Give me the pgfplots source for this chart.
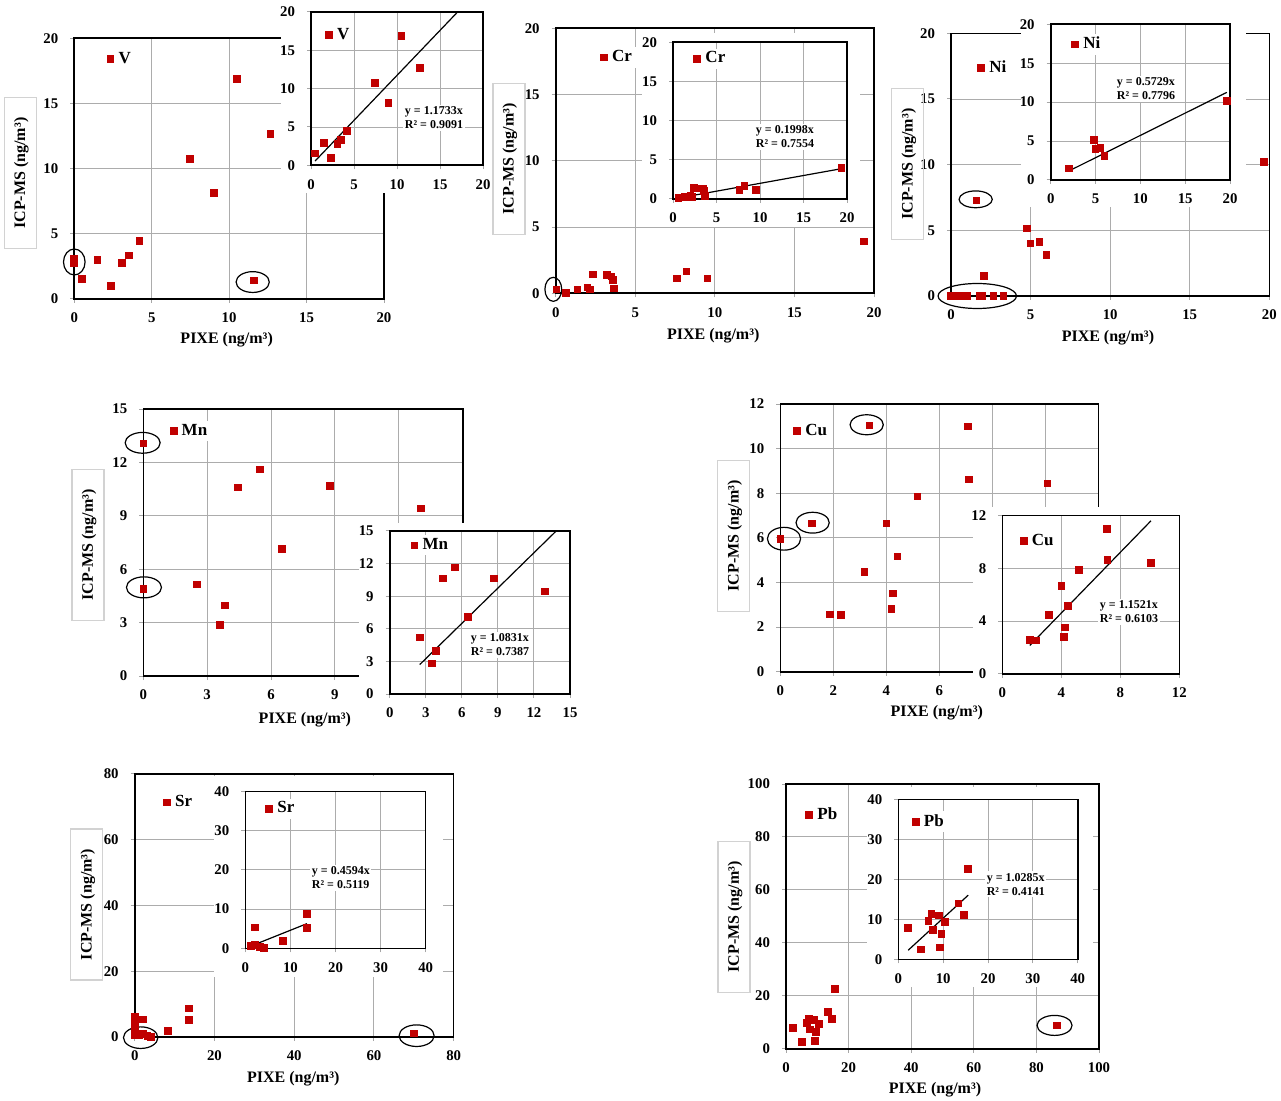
\documentclass[border=0pt]{standalone}
\usepackage{fontspec}
\setmainfont{Liberation Serif}
\usepackage{pgfplots}
\pgfplotsset{compat=1.18}
\definecolor{mk}{HTML}{C00000}
\pgfplotsset{
 base/.style={
  scale only axis, clip=false, anchor=south west,
  axis line style={line width=0.8pt},
  grid=major, major grid style={draw=gray!65, line width=0.45pt},
  tick align=outside, tick pos=left, major tick length=2pt,
  tick style={gray!70, line width=0.5pt},
  tick label style={font=\bfseries\fontsize{7.4}{8}\selectfont},
  yticklabel style={xshift=-2.5pt},
  xticklabel style={yshift=-1.5pt},
  /pgf/number format/assume math mode=true,
  legend image code/.code={\draw[##1] plot coordinates {(0pt,0pt)};},
  legend style={draw=none, fill=white, anchor=west, inner xsep=0pt, inner ysep=0.5pt,
    nodes={inner xsep=2.4pt, inner ysep=1pt}, font=\bfseries\fontsize{8.5}{9}\selectfont, xshift=-1.9pt},
 },
 mainax/.style={base,
  xlabel={PIXE (ng/m³)}, ylabel={ICP-MS (ng/m³)},
  xlabel style={anchor=center, font=\bfseries\fontsize{8}{9}\selectfont},
  ylabel style={anchor=center, font=\bfseries\fontsize{8}{9}\selectfont, draw=gray!35,
    line width=0.6pt, inner xsep=10pt, inner ysep=3.4pt, text height=0.7em, text depth=0.22em},
 },
 inax/.style={base},
 pts/.style={only marks, mark=square*, mark size=1.7pt, draw=mk, fill=mk},
 fit/.style={black, line width=0.6pt, no marks, forget plot},
}
\tikzset{circ/.style={black, line width=0.6pt},
 eq/.style={fill=white, inner sep=0.8pt, align=left, font=\bfseries\fontsize{6}{7}\selectfont}}
\begin{document}
\begin{tikzpicture}
\useasboundingbox (0,0) rectangle (640.5pt,550pt);
% ===== V =====
\begin{axis}[mainax, at={(37.15pt,400.5pt)}, width=154.85pt, height=130.35pt,
 xmin=0,xmax=20,ymin=0,ymax=20, xtick distance=5, ytick distance=5,
 xlabel style={at={(axis description cs:0.492,-0.157)}},
 ylabel style={at={(axis description cs:-0.174,0.483)}},
 legend style={at={(axis cs:2.33,18.41)}}]
\addplot[pts] coordinates {(0,3.1)(0,2.8)(0.47,1.55)(1.49,2.97)(2.36,0.98)(3.08,2.76)(3.52,3.34)(4.2,4.45)(7.44,10.75)(9.0,8.16)(10.5,16.86)(12.66,12.67)(11.62,1.43)};
\addlegendentry{V}
\draw[circ] (axis cs:0,2.84) ellipse [x radius=5.4pt, y radius=6.5pt];
\draw[circ] (axis cs:11.52,1.3) ellipse [x radius=8.3pt, y radius=5.2pt];
\end{axis}
\fill[white] (140.5pt,453.5pt) rectangle (246pt,550pt);
\begin{axis}[inax, at={(155.5pt,467.35pt)}, width=86pt, height=76.65pt,
 xmin=0,xmax=20,ymin=0,ymax=20, xtick distance=5, ytick distance=5,
 legend style={at={(axis cs:2.09,16.96)}}]
\addplot[pts] coordinates {(0.47,1.55)(1.49,2.97)(2.36,0.98)(3.08,2.76)(3.52,3.34)(4.2,4.45)(7.44,10.75)(9.0,8.16)(10.5,16.86)(12.66,12.67)};
\addlegendentry{V}
\addplot[fit] coordinates {(0.47,0.551)(17.04,19.993)};
\node[eq] at (axis cs:14.3,6.17) {y = 1.1733x\\R² = 0.9091};
\end{axis}
% ===== Cr =====
\begin{axis}[mainax, at={(277.85pt,403.35pt)}, width=159.15pt, height=132.5pt,
 xmin=0,xmax=20,ymin=0,ymax=20, xtick distance=5, ytick distance=5,
 xlabel style={at={(axis description cs:0.495,-0.161)}},
 ylabel style={at={(axis description cs:-0.147,0.507)}},
 legend style={at={(axis cs:3.03,17.8)}}]
\addplot[pts] coordinates {(0.04,0.3)(0.63,0.05)(1.36,0.3)(1.99,0.45)(2.16,0.3)(2.36,1.43)(3.24,1.36)(3.5,1.28)(3.58,1.0)(3.68,0.37)(7.64,1.13)(8.21,1.66)(9.53,1.13)(19.35,3.92)};
\addlegendentry{Cr}
\draw[circ] (axis cs:-0.15,0.3) ellipse [x radius=4.2pt, y radius=6pt];
\end{axis}
\fill[white] (320.85pt,436.65pt) rectangle (430pt,533.35pt);
\begin{axis}[inax, at={(336.5pt,450.5pt)}, width=87pt, height=78.35pt,
 xmin=0,xmax=20,ymin=0,ymax=20, xtick distance=5, ytick distance=5,
 legend style={at={(axis cs:2.79,17.9)}}]
\addplot[pts] coordinates {(0.63,0.12)(1.36,0.3)(1.99,0.45)(2.16,0.3)(2.36,1.43)(3.24,1.36)(3.5,1.28)(3.58,1.0)(3.68,0.37)(7.64,1.2)(8.21,1.7)(9.53,1.2)(19.35,3.98)};
\addlegendentry{Cr}
\addplot[fit] coordinates {(0.63,0.126)(19.35,3.866)};
\node[eq] at (axis cs:12.87,7.91) {y = 0.1998x\\R² = 0.7554};
\end{axis}
% ===== Ni =====
\begin{axis}[mainax, at={(475.5pt,402pt)}, width=159.15pt, height=131.35pt,
 xmin=0,xmax=20,ymin=0,ymax=20, xtick distance=5, ytick distance=5,
 xlabel style={at={(axis description cs:0.493,-0.157)}},
 ylabel style={at={(axis description cs:-0.136,0.502)}},
 legend style={at={(axis cs:1.9,17.38)}}]
\addplot[pts] coordinates {(0,0)(0.52,0)(1.02,0)(1.82,0)(1.97,0)(2.66,0)(3.29,0)(1.59,7.28)(2.05,1.5)(4.78,5.15)(4.99,4.01)(5.55,4.09)(5.99,3.1)(19.65,10.18)};
\addlegendentry{Ni}
\draw[circ] (axis cs:1.55,7.36) ellipse [x radius=8.3pt, y radius=4.2pt];
\draw[circ] (axis cs:1.65,0) ellipse [x radius=19.6pt, y radius=6.25pt];
\end{axis}
\fill[white] (510.5pt,446.65pt) rectangle (623pt,550pt);
\begin{axis}[inax, at={(525.35pt,460pt)}, width=89.65pt, height=77.85pt,
 xmin=0,xmax=20,ymin=0,ymax=20, xtick distance=5, ytick distance=5,
 legend style={at={(axis cs:2.74,17.43)}}]
\addplot[pts] coordinates {(2.05,1.5)(4.78,5.15)(4.99,4.01)(5.55,4.09)(5.99,3.1)(19.65,10.18)};
\addlegendentry{Ni}
\addplot[fit] coordinates {(2.05,1.174)(19.65,11.257)};
\node[eq] at (axis cs:10.63,11.69) {y = 0.5729x\\R² = 0.7796};
\end{axis}
% ===== Mn =====
\begin{axis}[mainax, at={(71.65pt,212pt)}, width=159.7pt, height=133.5pt,
 xmin=0,xmax=15,ymin=0,ymax=15, xtick distance=3, ytick distance=3,
 xlabel style={at={(axis description cs:0.506,-0.162)}},
 ylabel style={at={(axis description cs:-0.173,0.491)}},
 legend style={at={(axis cs:1.42,13.75)}}]
\addplot[pts] coordinates {(0,13.07)(0,4.89)(2.5,5.15)(3.58,2.85)(3.85,3.97)(4.44,10.6)(5.47,11.61)(6.5,7.12)(8.77,10.66)(13.02,9.42)};
\addlegendentry{Mn}
\draw[circ] (axis cs:-0.03,13.1) ellipse [x radius=8.75pt, y radius=5.2pt];
\draw[circ] (axis cs:0.03,4.98) ellipse [x radius=8.75pt, y radius=5.25pt];
\end{axis}
\fill[white] (179.5pt,187.5pt) rectangle (289pt,288.65pt);
\begin{axis}[inax, at={(194.85pt,203pt)}, width=90.15pt, height=81.5pt,
 xmin=0,xmax=15,ymin=0,ymax=15, xtick distance=3, ytick distance=3,
 legend style={at={(axis cs:2.05,13.68)}}]
\addplot[pts] coordinates {(2.5,5.2)(3.52,2.82)(3.82,3.93)(4.43,10.64)(5.43,11.65)(6.49,7.11)(8.65,10.64)(12.92,9.45)};
\addlegendentry{Mn}
\addplot[fit] coordinates {(2.5,2.708)(13.85,15.0)};
\node[eq] at (axis cs:9.18,4.51) {y = 1.0831x\\R² = 0.7387};
\end{axis}
% ===== Cu =====
\begin{axis}[mainax, at={(390.15pt,214.15pt)}, width=159pt, height=133.85pt,
 xmin=0,xmax=12,ymin=0,ymax=12, xtick distance=2, ytick distance=2,
 xlabel style={at={(axis description cs:0.492,-0.155)}},
 ylabel style={at={(axis description cs:-0.146,0.507)}},
 legend style={at={(axis cs:0.64,10.78)}}]
\addplot[pts] coordinates {(0,5.95)(1.18,6.65)(1.86,2.57)(2.3,2.53)(3.17,4.46)(3.36,11.04)(4.0,6.65)(4.19,2.8)(4.26,3.51)(4.42,5.17)(5.17,7.86)(7.09,11.0)(7.13,8.62)(10.08,8.44)};
\addlegendentry{Cu}
\draw[circ] (axis cs:3.26,11.07) ellipse [x radius=8.3pt, y radius=5pt];
\draw[circ] (axis cs:1.22,6.68) ellipse [x radius=8.3pt, y radius=5.2pt];
\draw[circ] (axis cs:0.14,5.96) ellipse [x radius=8.3pt, y radius=5.7pt];
\end{axis}
\fill[white] (486.65pt,200pt) rectangle (616pt,296.35pt);
\begin{axis}[inax, at={(501.15pt,213.15pt)}, width=88.5pt, height=79pt,
 xmin=0,xmax=12,ymin=0,ymax=12, xtick distance=4, ytick distance=4,
 legend style={at={(axis cs:1.45,10.08)}}]
\addplot[pts] coordinates {(1.86,2.57)(2.3,2.53)(3.17,4.46)(4.0,6.65)(4.19,2.8)(4.26,3.51)(4.42,5.17)(5.17,7.86)(7.09,11.0)(7.13,8.62)(10.08,8.44)};
\addlegendentry{Cu}
\addplot[fit] coordinates {(1.86,2.143)(10.08,11.613)};
\node[eq] at (axis cs:8.59,4.69) {y = 1.1521x\\R² = 0.6103};
\end{axis}
% ===== Sr =====
\begin{axis}[mainax, at={(67.35pt,31.5pt)}, width=159.5pt, height=131.65pt,
 xmin=0,xmax=80,ymin=0,ymax=80, xtick distance=20, ytick distance=20,
 xlabel style={at={(axis description cs:0.497,-0.157)}},
 ylabel style={at={(axis description cs:-0.150,0.503)}},
 legend style={at={(axis cs:8.1,71.3)}}]
\addplot[pts] coordinates {(0,6.2)(0,3.6)(0,1.6)(0,0.6)(1.2,0.7)(2.15,5.35)(2.15,0.9)(3.2,0.3)(4.1,0.05)(8.3,1.9)(13.6,8.7)(13.6,5.1)(70,1.1)};
\addlegendentry{Sr}
\draw[circ] (axis cs:1.5,-0.2) ellipse [x radius=8.6pt, y radius=5.4pt];
\draw[circ] (axis cs:70.7,0.4) ellipse [x radius=8.75pt, y radius=5.4pt];
\end{axis}
\fill[white] (107.15pt,61.65pt) rectangle (221.65pt,162pt);
\begin{axis}[inax, at={(122.65pt,75.85pt)}, width=90.2pt, height=78.5pt,
 xmin=0,xmax=40,ymin=0,ymax=40, xtick distance=10, ytick distance=10,
 legend style={at={(axis cs:5.32,35.57)}}]
\addplot[pts] coordinates {(1.2,0.7)(2.15,5.35)(2.15,0.9)(3.2,0.3)(4.1,0.05)(8.3,1.9)(13.6,8.7)(13.6,5.1)};
\addlegendentry{Sr}
\addplot[fit] coordinates {(1.2,0.551)(13.68,6.285)};
\node[eq] at (axis cs:21.2,17.9) {y = 0.4594x\\R² = 0.5119};
\end{axis}
% ===== Pb =====
\begin{axis}[mainax, at={(393pt,25.65pt)}, width=156.5pt, height=132.35pt,
 xmin=0,xmax=100,ymin=0,ymax=100, xtick distance=20, ytick distance=20,
 xlabel style={at={(axis description cs:0.476,-0.156)}},
 ylabel style={at={(axis description cs:-0.166,0.4975)}},
 legend style={at={(axis cs:7.44,88.4)}}]
\addplot[pts] coordinates {(2.2,7.9)(5.0,2.5)(6.7,9.7)(7.4,11.3)(7.7,7.3)(9.0,11.0)(9.2,3.0)(9.6,6.4)(10.4,9.4)(13.4,14.0)(14.6,11.2)(15.6,22.6)(86.6,8.8)};
\addlegendentry{Pb}
\draw[circ] (axis cs:85.8,8.8) ellipse [x radius=8.75pt, y radius=5pt];
\end{axis}
\fill[white] (433.35pt,56.65pt) rectangle (546.5pt,156.5pt);
\begin{axis}[inax, at={(449.15pt,70.35pt)}, width=89.7pt, height=80pt,
 xmin=0,xmax=40,ymin=0,ymax=40, xtick distance=10, ytick distance=10,
 legend style={at={(axis cs:3.88,34.4)}}]
\addplot[pts] coordinates {(2.2,7.9)(5.0,2.5)(6.7,9.7)(7.4,11.3)(7.7,7.3)(9.0,11.0)(9.2,3.0)(9.6,6.4)(10.4,9.4)(13.4,14.0)(14.6,11.2)(15.6,22.6)};
\addlegendentry{Pb}
\addplot[fit] coordinates {(2.2,2.263)(15.6,16.045)};
\node[eq] at (axis cs:26.2,18.8) {y = 1.0285x\\R² = 0.4141};
\end{axis}
\end{tikzpicture}
\end{document}
